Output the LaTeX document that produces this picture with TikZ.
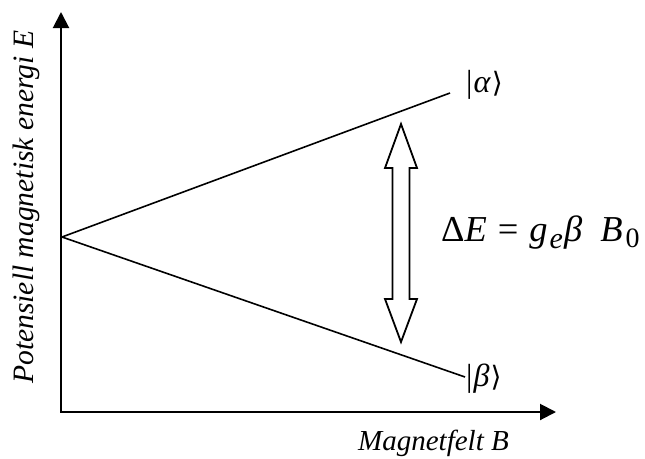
\documentclass[tikz,border=0pt]{standalone}
\usepackage{fontspec}
\setmainfont{Liberation Serif}
\newfontfamily\djv{DejaVu Sans}
\usetikzlibrary{arrows.meta}
\begin{document}
\begin{tikzpicture}[x=1pt,y=-1pt,
  axis/.style={line width=2pt,{Triangle[length=16pt,width=16pt]}-{Triangle[length=16pt,width=16pt]}},
  level/.style={line width=1.6pt},
  lbl/.style={inner sep=0pt,font=\fontsize{29}{32}\selectfont},
  ket/.style={inner sep=0pt,font=\fontsize{32}{36}\selectfont},
  dbl/.style={line width=1.8pt, fill=white, line join=miter}]
\useasboundingbox (0,0) rectangle (645,458);
\coordinate (Ytip) at (61,12);
\coordinate (Xtip) at (556,412);
\coordinate (S) at (62,237);
\coordinate (A) at (450,93);
\coordinate (B) at (465,377);
\coordinate (D) at (401,233);
\draw[axis] (Ytip) |- (Xtip);
\draw[level] (S) -- (A);
\draw[level] (S) -- (B);
\draw[dbl, shift={(D)}] (0,-109) -- (16,-65) -- (8.5,-65) -- (8.5,66) -- (16,66) -- (0,109)
  -- (-16,66) -- (-8.5,66) -- (-8.5,-65) -- (-16,-65) -- cycle;
\node[ket, anchor=base west] (ka) at (466,92) {|\kern1pt\textit{α}\kern1pt{\djv\fontsize{28}{30}\selectfont ⟩}};
\node[ket, anchor=base west] (kb) at (466,386) {|\kern1pt\textit{β}\kern1pt{\djv\fontsize{28}{30}\selectfont ⟩}};
\node[lbl, anchor=base east] (xl) at (509,450) {\textit{Magnetfelt B}};
\node[lbl, anchor=base west, rotate=90, font=\fontsize{29.6}{32}\selectfont] (yl) at (33,384) {\textit{Potensiell magnetisk energi E}};
\node[inner sep=0pt, anchor=base west, font=\fontsize{36.5}{40}\selectfont] (eq) at (441,241)
  {Δ\textit{E}\hspace{0.3em}=\hspace{0.3em}\textit{g}\kern2pt\raisebox{-0.2em}{\fontsize{30}{32}\selectfont\textit{e}}\kern1pt\textit{β}\hspace{0.5em}\textit{B}\kern3pt\raisebox{-0.17em}{\fontsize{28}{30}\selectfont 0}};
\end{tikzpicture}
\end{document}
